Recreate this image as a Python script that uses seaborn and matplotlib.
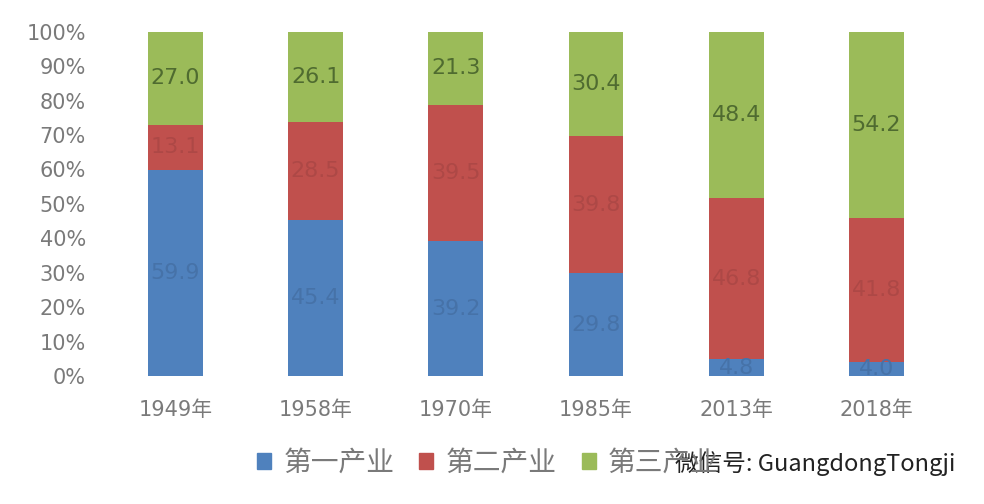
import matplotlib
matplotlib.use("Agg")
import matplotlib.pyplot as plt
import seaborn as sns
import numpy as np
import pandas as pd
from matplotlib.patches import Patch

# three-industry structure (percent) for selected years
years = ["1949年", "1958年", "1970年", "1985年", "2013年", "2018年"]
primary = [59.9, 45.4, 39.2, 29.8, 4.8, 4.0]
secondary = [13.1, 28.5, 39.5, 39.8, 46.8, 41.8]
tertiary = [27.0, 26.1, 21.3, 30.4, 48.4, 54.2]
series_names = ["第一产业", "第二产业", "第三产业"]

blue = "#4F81BD"
red = "#C0504D"
green = "#9BBB59"

sns.set_style("white")
plt.rcParams["font.family"] = ["DejaVu Sans", "Noto Sans CJK SC"]

df = pd.DataFrame({"year": years, "p": primary, "s": secondary, "t": tertiary})
df["ps"] = df["p"] + df["s"]
df["total"] = df["ps"] + df["t"]

fig = plt.figure(figsize=(9.84, 5.04), dpi=100)
ax = fig.add_axes([0.107, 0.254, 0.855, 0.683])

# stacked look: draw the tallest first, then overlay
bar_kw = dict(width=0.39, saturation=1, linewidth=0, edgecolor="none", ax=ax)
sns.barplot(data=df, x="year", y="total", color=green, **bar_kw)
sns.barplot(data=df, x="year", y="ps", color=red, **bar_kw)
sns.barplot(data=df, x="year", y="p", color=blue, **bar_kw)

# data labels, centred in each segment
for i in range(len(years)):
    ax.text(i, primary[i] / 2, f"{primary[i]:.1f}", ha="center", va="center",
            fontsize=16, color="#4672a8")
    ax.text(i, primary[i] + secondary[i] / 2, f"{secondary[i]:.1f}", ha="center", va="center",
            fontsize=16, color="#ad4846")
    ax.text(i, df["ps"][i] + tertiary[i] / 2, f"{tertiary[i]:.1f}", ha="center", va="center",
            fontsize=16, color="#4f6b30")

ax.set_ylim(0, 100)
ax.set_yticks(np.arange(0, 101, 10))
ax.set_yticklabels([f"{v}%" for v in range(0, 101, 10)])
ax.set_xlabel("")
ax.set_ylabel("")
ax.tick_params(axis="both", length=0, labelsize=15, labelcolor="#7a7a7a")
ax.tick_params(axis="x", pad=17)
ax.tick_params(axis="y", pad=14)
sns.despine(ax=ax, left=True, bottom=True)

handles = [Patch(color=blue), Patch(color=red), Patch(color=green)]
fig.legend(handles, series_names, loc="center", bbox_to_anchor=(0.496, 0.081), ncol=3,
           frameon=False, fontsize=20, handlelength=0.5, handleheight=0.5,
           handletextpad=0.45, columnspacing=0.9, labelcolor="#7a7a7a")

fig.text(0.686, 0.081, "微信号: GuangdongTongji", fontsize=17, color="#222222",
         va="center", ha="left", family=["Noto Sans CJK SC", "DejaVu Sans"])

fig.savefig("out.png", dpi=100)
